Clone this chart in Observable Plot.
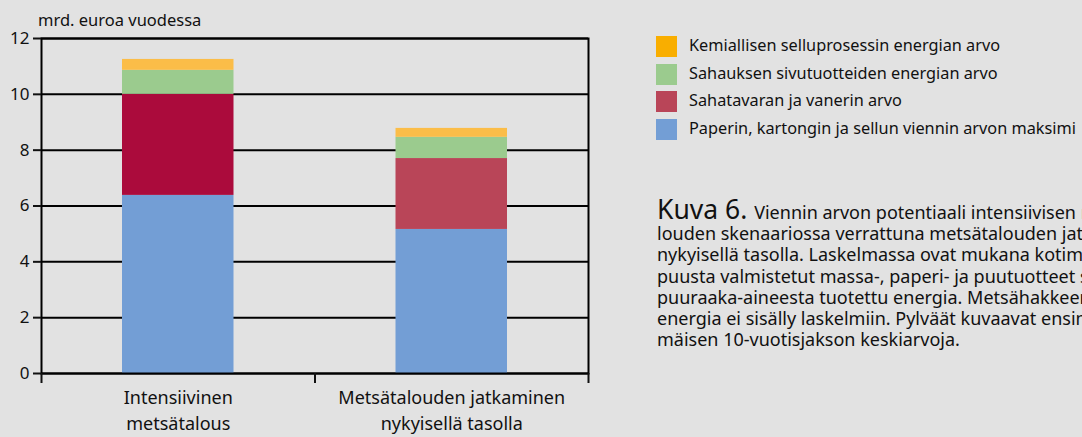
<!DOCTYPE html>
<html>
<head>
<meta charset="utf-8">
<script src="https://cdn.jsdelivr.net/npm/d3@7"></script>
<script src="https://cdn.jsdelivr.net/npm/@observablehq/plot@0.6"></script>
<style>
  html, body { margin: 0; padding: 0; background: #e2e2e2; }
  body { width: 1082px; height: 437px; overflow: hidden; position: relative; font-family: "Noto Sans", "Open Sans", sans-serif; color: #111; }
  #chart { position: absolute; left: 0; top: 0; }
  #ylabel { position: absolute; left: 38px; top: 10px; font-size: 16.5px; line-height: 20px; white-space: nowrap; }
  #legend { position: absolute; left: 656px; top: 36px; }
  .lrow { position: absolute; left: 0; height: 21px; white-space: nowrap; font-size: 16.3px; line-height: 21px; }
  .sw { position: absolute; left: 0; top: 0; width: 21px; height: 21px; }
  .lt { position: absolute; left: 33px; top: -1px; }
  #caption { position: absolute; left: 657px; top: 202px; font-size: 18px; line-height: 21.2px; white-space: nowrap; }
  #caption div { height: 21.2px; }
  #caption .kuva { font-size: 26.5px; line-height: 0; }
</style>
</head>
<body>
<div id="chart"></div>
<div id="ylabel"></div>
<div id="legend"></div>
<div id="caption"></div>
<script>
// ---- data ----
const scenarios = ["Intensiivinen\nmetsätalous", "Metsätalouden jatkaminen\nnykyisellä tasolla"];
const seriesNames = [
  "Paperin, kartongin ja sellun viennin arvon maksimi",
  "Sahatavaran ja vanerin arvo",
  "Sahauksen sivutuotteiden energian arvo",
  "Kemiallisen selluprosessin energian arvo"
];
const paperi = [6.38, 5.16];
const sahatavara = [3.62, 2.54];
const sivutuotteet = [0.86, 0.76];
const selluenergia = [0.39, 0.32];
const yTicks = [0, 2, 4, 6, 8, 10, 12];
const yLabel = "mrd. euroa vuodessa";
const captionLines = [
  "Viennin arvon potentiaali intensiivisen metsäta-",
  "louden skenaariossa verrattuna metsätalouden jatkamiseen",
  "nykyisellä tasolla. Laskelmassa ovat mukana kotimaisesta",
  "puusta valmistetut massa-, paperi- ja puutuotteet sekä",
  "puuraaka-aineesta tuotettu energia. Metsähakkeen",
  "energia ei sisälly laskelmiin. Pylväät kuvaavat ensim-",
  "mäisen 10-vuotisjakson keskiarvoja."
];
const captionTitle = "Kuva 6.";

// colours
const blue = "#739ed5";
const redIntensive = "#ab0b3c";
const redCurrent = "#b94558";
const green = "#9bcb8e";
const orangeBar = "#fbbd48";
const orangeLegend = "#f9ae00";

// ---- table ----
const values = [paperi, sahatavara, sivutuotteet, selluenergia];
const rows = [];
scenarios.forEach((s, i) => {
  const fills = [blue, i === 0 ? redIntensive : redCurrent, green, orangeBar];
  values.forEach((v, k) => {
    rows.push({i, i2: i + 1, series: seriesNames[k], value: v[i], fill: fills[k]});
  });
});

const chart = Plot.plot({
  width: 1082,
  height: 437,
  marginLeft: 41,
  marginRight: 494,
  marginTop: 38,
  marginBottom: 64,
  style: {background: "transparent", fontFamily: "'Noto Sans', 'Open Sans', sans-serif", color: "#111"},
  x: {type: "linear", domain: [0, scenarios.length]},
  y: {domain: [0, 12]},
  color: {type: "identity"},
  marks: [
    Plot.ruleY(yTicks, {stroke: "#000", strokeWidth: 2}),
    Plot.rectY(rows, Plot.stackY({x1: "i", x2: "i2", y: "value", fill: "fill", insetLeft: 81, insetRight: 81})),
    Plot.frame({stroke: "#000", strokeWidth: 2}),
    Plot.axisY({ticks: yTicks, tickSize: 8, tickPadding: 4, fontSize: 17, label: null, strokeWidth: 2}),
    Plot.axisX({ticks: d3.range(scenarios.length + 1), tickSize: 10, tickFormat: () => "", strokeWidth: 2, label: null}),
    Plot.axisX({ticks: scenarios.map((s, i) => i + 0.5), tickSize: 0, tickPadding: 12, fontSize: 18, lineHeight: 1.45,
      tickFormat: d => scenarios[Math.floor(d)], label: null})
  ]
});
document.getElementById("chart").appendChild(chart);

document.getElementById("ylabel").textContent = yLabel;

const legendColors = [orangeLegend, green, redCurrent, blue];
const legendNames = seriesNames.slice().reverse();
const legend = document.getElementById("legend");
legendNames.forEach((n, k) => {
  const row = document.createElement("div");
  row.className = "lrow";
  row.style.top = (k * 27.7) + "px";
  const sw = document.createElement("div");
  sw.className = "sw";
  sw.style.background = legendColors[k];
  const t = document.createElement("div");
  t.className = "lt";
  t.textContent = n;
  row.appendChild(sw); row.appendChild(t);
  legend.appendChild(row);
});

const cap = document.getElementById("caption");
captionLines.forEach((l, k) => {
  const d = document.createElement("div");
  if (k === 0) {
    const s = document.createElement("span");
    s.className = "kuva";
    s.textContent = captionTitle + " ";
    d.appendChild(s);
    d.appendChild(document.createTextNode(l));
  } else {
    d.textContent = l;
  }
  cap.appendChild(d);
});
</script>
</body>
</html>
